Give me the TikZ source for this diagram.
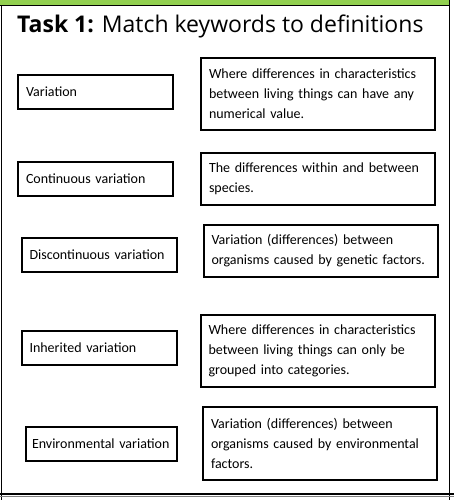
\documentclass[tikz,border=0pt]{standalone}
\usepackage{fontspec}
\setmainfont{Carlito}
\newfontfamily\titlefont{Open Sans}
\definecolor{barGreen}{HTML}{92D050}
\begin{document}
\begin{tikzpicture}[x=1pt,y=-1pt,
	keybox/.style={draw,line width=2pt,minimum height=34pt,text width=139pt,inner xsep=8pt,align=left,font=\fontsize{14}{20}\selectfont},
	defbox/.style={draw,line width=2pt,text width=218pt,inner xsep=8pt,align=left,font=\fontsize{14}{20}\selectfont},
	frame/.style={line width=1.2pt}]
	\useasboundingbox (0,0) rectangle (454,500);
	\fill[barGreen] (0,0) rectangle (450,5);
	\draw[frame] (0,5.5) -- (450,5.5);
	\draw[frame] (1.5,5) -- (1.5,500);
	\draw[frame] (449.5,0) -- (449.5,500);
	\draw[frame] (0,494) -- (454,494);
	\draw[frame,gray] (0,496.5) -- (454,496.5);

	\node[anchor=base west,inner sep=0pt,font=\titlefont\fontsize{23}{26}\selectfont] at (17,33) (title) {\textbf{Task 1:} Match keywords to definitions};

	\node[keybox] at (95.5,92) (var) {Variation};
	\node[keybox] at (95.5,179) (cont) {Continuous variation};
	\node[keybox] at (99,254.5) (disc) {Discontinuous variation};
	\node[keybox] at (99,347.5) (inh) {Inherited variation};
	\node[keybox,inner xsep=6pt] at (101.5,444) (env) {\mbox{Environmental variation}};

	\node[defbox,minimum height=72pt] at (318,94) (numdef) {Where differences in characteristics\\between living things can have any\\numerical value.};
	\node[defbox,minimum height=52pt] at (318,179) (spdef) {The differences within and between\\species.};
	\node[defbox,minimum height=52pt] at (320.5,251) (gendef) {Variation (differences) between\\organisms caused by genetic factors.};
	\node[defbox,minimum height=72pt] at (317.5,351) (catdef) {Where differences in characteristics\\between living things can only be\\grouped into categories.};
	\node[defbox,minimum height=73pt] at (320,443.5) (envdef) {Variation (differences) between\\organisms caused by environmental\\factors.};
\end{tikzpicture}
\end{document}
